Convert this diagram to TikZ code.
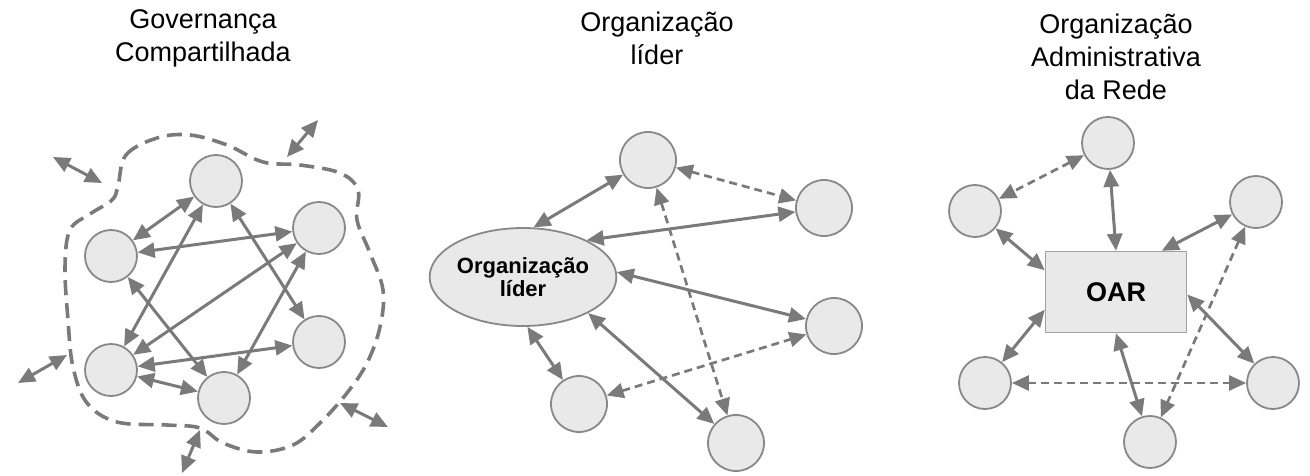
\documentclass[tikz,border=0pt]{standalone}
\usepackage{fontspec}
\setmainfont{Liberation Sans}
\usetikzlibrary{shapes, arrows.meta, positioning}

\definecolor{edgegray}{HTML}{7A7A7A}
\definecolor{nodefill}{HTML}{E9E9E9}
\definecolor{nodeline}{HTML}{888888}

\begin{document}
\begin{tikzpicture}[
    x=1pt, y=-1pt,
    >={Triangle[length=17pt, width=15pt]},
    title/.style={align=center, font=\fontsize{27}{33}\selectfont},
    member/.style={draw=nodeline, fill=nodefill, circle, line width=1.8pt, minimum size=52pt, inner sep=0pt},
    bigmember/.style={member, minimum size=56pt},
    leadorg/.style={draw=nodeline, fill=nodefill, ellipse, line width=1.8pt, minimum width=164pt, minimum height=98pt, inner sep=0pt, align=center, font=\bfseries\fontsize{22}{23}\selectfont},
    admin/.style={draw=nodeline!80, fill=nodefill, rectangle, line width=1.5pt, minimum width=141pt, minimum height=81pt, font=\bfseries\fontsize{27}{30}\selectfont},
    link/.style={draw=edgegray, line width=3pt, <->},
    dlink/.style={link, line width=2.7pt, dash pattern=on 8pt off 5pt},
    border/.style={draw=edgegray, line width=3.6pt, dash pattern=on 15pt off 8pt}
]
\useasboundingbox (0,0) rectangle (1310,476);

% --- 1. GOVERNANCA COMPARTILHADA (Left) ---
\node[title] (t1) at (203,38) {Governança\\Compartilhada};

% dashed boundary of the network
\draw[border] plot[smooth cycle, tension=0.6] coordinates {
    (118,186) (126,155) (157,138) (190,135) (227,145) (263,162) (300,165)
    (340,173) (358,190) (357,220) (370,253) (383,290) (380,327) (367,363)
    (347,393) (320,423) (293,445) (257,452) (223,443) (200,428) (167,425)
    (117,422) (87,403) (73,367) (68,320) (65,267) (70,230) (90,214) (112,200)};

\node[member] (ga) at (216,181) {};
\node[member] (gb) at (111,256) {};
\node[member] (gc) at (319,228) {};
\node[member] (gd) at (319,342) {};
\node[member] (ge) at (111,370) {};
\node[member] (gf) at (224,398) {};

\draw[link] (ga) -- (gb);
\draw[link] (gb) -- (gc);
\draw[link] (ga) -- (ge);
\draw[link] (ga) -- (gd);
\draw[link] (gc) -- (ge);
\draw[link] (gc) -- (gf);
\draw[link] (gb) -- (gf);
\draw[link] (ge) -- (gd);
\draw[link] (ge) -- (gf);

% links crossing the boundary
\coordinate (x1a) at (318,120); \coordinate (x1b) at (287,157);
\coordinate (x2a) at (53,157);  \coordinate (x2b) at (102,183);
\coordinate (x3a) at (18,383);  \coordinate (x3b) at (67,355);
\coordinate (x4a) at (182,473); \coordinate (x4b) at (200,430);
\coordinate (x5a) at (340,403); \coordinate (x5b) at (388,427);
\draw[link] (x1a) -- (x1b);
\draw[link] (x2a) -- (x2b);
\draw[link] (x3a) -- (x3b);
\draw[link] (x4a) -- (x4b);
\draw[link] (x5a) -- (x5b);

% --- 2. ORGANIZACAO LIDER (Middle) ---
\node[title] (t2) at (657,38) {Organização\\líder};

\node[leadorg] (lead) at (523,277) {Organização\\líder};
\node[bigmember] (la) at (648,160) {};
\node[bigmember] (lb) at (824,208) {};
\node[bigmember] (lc) at (834,326) {};
\node[bigmember] (ld) at (579,404) {};
\node[bigmember] (le) at (736,443) {};

\draw[link] (lead.78) -- (la);
\draw[link] (lead.30) -- (lb);
\draw[link] (lead.3) -- (lc);
\draw[link] (lead.-85) -- (ld);
\draw[link] (lead.-29) -- (le);
\draw[dlink] (la) -- (lb);
\draw[dlink] (la) -- (le);
\draw[dlink] (ld) -- (lc);

% --- 3. ORGANIZACAO ADMINISTRATIVA DA REDE (Right) ---
\node[title] (t3) at (1116,57) {Organização\\Administrativa\\da Rede};

\node[admin] (oar) at (1116,292) {OAR};
\node[member] (ra) at (1108,143) {};
\node[member] (rb) at (975,211) {};
\node[member] (rc) at (1256,202) {};
\node[member] (rd) at (985,383) {};
\node[member] (re) at (1273,383) {};
\node[member] (rf) at (1150,442) {};

\draw[link] (ra) -- (oar.north);
\draw[link] (rb) -- (oar.163);
\draw[link] (rc) -- (oar.42);
\draw[link] (oar.194) -- (rd);
\draw[link] (oar.-2) -- (re);
\draw[link] (oar.south) -- (rf);
\draw[dlink] (ra) -- (rb);
\draw[dlink] (rc) -- (rf);
\draw[dlink] (rd) -- (re);

\end{tikzpicture}
\end{document}
